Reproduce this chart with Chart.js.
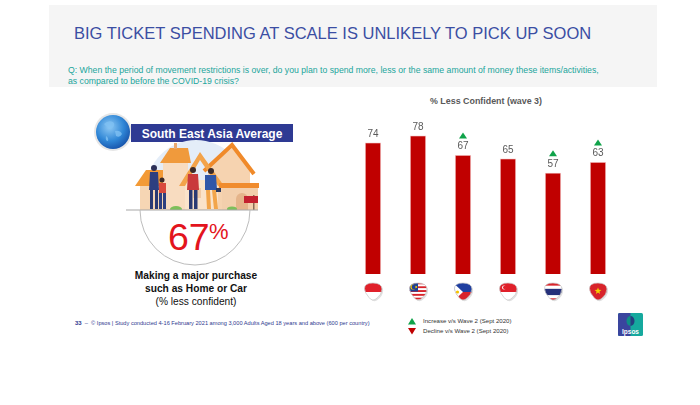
<!DOCTYPE html>
<html>
<head>
<meta charset="utf-8">
<script src="https://cdn.jsdelivr.net/npm/chart.js@4.4.1/dist/chart.umd.min.js"></script>
<style>
  html, body { margin:0; padding:0; background:#ffffff; }
  body { width:700px; height:405px; position:relative; overflow:hidden; font-family:"Liberation Sans", Arial, sans-serif; }
  .abs { position:absolute; white-space:nowrap; }
  #band { left:49px; top:5px; width:608px; height:82px; background:#f5f5f5; }
  #title { left:74px; top:23px; font-size:16.5px; color:#3b4ea3; line-height:20px; }
  #q { left:68px; top:65px; font-size:8.7px; color:#22a59c; line-height:11px; }
  #footer { left:75px; top:320px; font-size:5.65px; color:#2f3a8f; }
  #footer b { font-size:6px; }
  .leg { left:423px; font-size:6.1px; color:#333; }
  #chartTitle { left:430px; top:96px; font-size:8.9px; font-weight:bold; color:#595959; }
  .desc { left:96px; width:200px; text-align:center; color:#111; font-size:10.2px; }
  #svgLayer { position:absolute; left:0; top:0; }
  #c { position:absolute; left:0; top:0; }
</style>
</head>
<body>
<div id="band" class="abs"></div>
<div id="title" class="abs">BIG TICKET SPENDING AT SCALE IS UNLIKELY TO PICK UP SOON</div>
<div id="q" class="abs">Q: When the period of movement restrictions is over, do you plan to spend more, less or the same amount of money these items/activities,<br>as compared to before the COVID-19 crisis?</div>

<svg id="svgLayer" width="700" height="405" viewBox="0 0 700 405" xmlns="http://www.w3.org/2000/svg">
  <defs>
    <radialGradient id="globeG" cx="0.4" cy="0.35" r="0.7">
      <stop offset="0" stop-color="#8fcaf5"/>
      <stop offset="0.6" stop-color="#2f86d6"/>
      <stop offset="1" stop-color="#1650a8"/>
    </radialGradient>
    <clipPath id="aboveGround"><rect x="0" y="0" width="700" height="210"/></clipPath>
  </defs>
  <!-- globe -->
  <circle cx="113" cy="132" r="19" fill="#e6e6e6"/>
  <circle cx="113" cy="132" r="17" fill="url(#globeG)"/>
  <path d="M104 124 q4 -4 9 -2 q3 3 -1 6 q-4 1 -8 -4 z M115 131 q5 -1 7 3 q-2 4 -6 2 z M106 136 q3 2 2 5 q-3 0 -2 -5 z" fill="#7fc0f2" opacity="0.8"/>
  <!-- banner -->
  <rect x="131" y="124" width="162" height="18" fill="#2e3a93"/>
  <text x="212" y="137.5" text-anchor="middle" font-family="Liberation Sans, Arial, sans-serif" font-weight="bold" font-size="12" fill="#ffffff">South East Asia Average</text>

  <!-- illustration -->
  <g clip-path="url(#aboveGround)">
    <circle cx="196" cy="190" r="50" fill="#e4edf8"/>
    <rect x="140" y="184" width="28" height="26" fill="#f6d6b4"/>
    <polygon points="135,186 146,170 168,170 168,186" fill="#f39a36"/>
    <rect x="163" y="160" width="25" height="50" fill="#f8dcc0"/>
    <polygon points="160,163 170,148 188,148 191,163" fill="#f09a3c"/>
    <rect x="174" y="143" width="3" height="6" fill="#e9a870"/>
    <polygon points="208,168 232,148 250,168 250,210 208,210" fill="#f6d3b0"/>
    <polyline points="204,171 232,145 254,174" fill="none" stroke="#f08a2a" stroke-width="4"/>
    <rect x="185" y="180" width="33" height="30" fill="#fae3ca"/>
    <polygon points="179,186 200,152 224,186 218,186 200,160 185,186" fill="#f3a34a"/>
    <rect x="193" y="188" width="8" height="10" fill="#f1cba7"/>
    <rect x="222" y="186" width="36" height="24" fill="#f3cfac"/>
    <rect x="219" y="183" width="40" height="5" fill="#f08c2e"/>
    <path d="M236 210 v-11 a6 6 0 0 1 12 0 v11 z" fill="#e5b48a"/>
    <rect x="253" y="195" width="1.5" height="15" fill="#8a6a55"/>
    <rect x="244" y="196" width="14" height="7" fill="#c4212f"/>
    <ellipse cx="176" cy="209" rx="6" ry="3" fill="#7dbf5a"/>
    <ellipse cx="232" cy="209" rx="5" ry="2.5" fill="#7dbf5a"/>
    <circle cx="154" cy="168" r="3" fill="#2b2f57"/>
    <path d="M150 172 h8 l1 18 h-10 z" fill="#2d3f80"/>
    <rect x="150" y="190" width="3" height="19" fill="#2b3a73"/>
    <rect x="155" y="190" width="3" height="19" fill="#2b3a73"/>
    <circle cx="162" cy="180" r="2.5" fill="#3a2a2a"/>
    <rect x="159" y="183" width="7" height="10" fill="#d94a3c"/>
    <rect x="159" y="193" width="3" height="16" fill="#2d3f80"/>
    <rect x="163" y="193" width="3" height="16" fill="#2d3f80"/>
    <circle cx="193" cy="170" r="3" fill="#3a2a2a"/>
    <path d="M188 174 h10 l1 16 h-12 z" fill="#c9393c"/>
    <rect x="189" y="190" width="3.5" height="19" fill="#2b3a73"/>
    <rect x="194" y="190" width="3.5" height="19" fill="#2b3a73"/>
    <circle cx="211" cy="171" r="3" fill="#3a2a2a"/>
    <path d="M205 175 h11 l1 15 h-12 z" fill="#2f56a8"/>
    <path d="M206 190 h4 l1 19 h-4 z M212 190 h4 l2 19 h-4 z" fill="#f2a54a"/>
    <rect x="216" y="188" width="5" height="4" fill="#2b3a60"/>
  </g>
  <line x1="126" y1="210" x2="258" y2="210" stroke="#a7a7a7" stroke-width="1"/>
  <path d="M140 210 A55 55 0 0 0 250 210" fill="none" stroke="#bdbdbd" stroke-width="1"/>
  <text x="168" y="249.5" font-family="Liberation Sans, Arial, sans-serif" font-size="37.5" fill="#e3141d">67</text>
  <text x="209" y="239" font-family="Liberation Sans, Arial, sans-serif" font-size="22" fill="#e3141d">%</text>

  <polygon points="408,324.5 416,324.5 412,318" fill="#10a34a"/>
  <polygon points="408,328 416,328 412,334.5" fill="#c00000"/>

  <rect x="618" y="313" width="25" height="23" rx="1.5" fill="#16a99e"/>
  <path d="M619.5 313 h11 v23 h-11 a1.5 1.5 0 0 1 -1.5 -1.5 v-20 a1.5 1.5 0 0 1 1.5 -1.5 z" fill="#3a459e"/>
  <path d="M630.5 316 a4 5 0 0 0 0 10 z" fill="#0e8e86"/>
  <path d="M630.5 316 a4 5 0 0 1 0 10 z" fill="#24407f"/>
  <text x="630.5" y="334" text-anchor="middle" font-family="Liberation Sans, Arial, sans-serif" font-weight="bold" font-size="6.5" fill="#ffffff">Ipsos</text>
</svg>

<div class="abs desc" style="top:270px;font-weight:bold;">Making a major purchase</div>
<div class="abs desc" style="top:283px;font-weight:bold;">such as Home or Car</div>
<div class="abs desc" style="top:296px;">(% less confident)</div>

<div id="chartTitle" class="abs">% Less Confident (wave 3)</div>
<div id="footer" class="abs"><b>33</b> &nbsp;–&nbsp; © Ipsos | Study conducted 4-16 February 2021 among 3,000 Adults Aged 18 years and above (600 per country)</div>
<div class="abs leg" style="top:317px;">Increase v/s Wave 2 (Sept 2020)</div>
<div class="abs leg" style="top:327px;">Decline v/s Wave 2 (Sept 2020)</div>

<canvas id="c" width="700" height="405"></canvas>

<script>
// ---- data ----
const countries = ['Indonesia', 'Malaysia', 'Philippines', 'Singapore', 'Thailand', 'Vietnam'];
const lessConfidentWave3 = [74, 78, 67, 65, 57, 63];
const changeVsWave2 = ['none', 'none', 'up', 'none', 'up', 'up'];
const yTicks = [0, 100];

function pickPath(ctx) {
  ctx.beginPath();
  ctx.moveTo(-8.5, -3);
  ctx.quadraticCurveTo(-8.5, -8.5, 0, -8.5);
  ctx.quadraticCurveTo(8.5, -8.5, 9, -2.5);
  ctx.quadraticCurveTo(9, 3, 3, 7.5);
  ctx.quadraticCurveTo(-1, 10, -4, 6);
  ctx.quadraticCurveTo(-8.5, 1, -8.5, -3);
  ctx.closePath();
}

function drawFlag(ctx, name) {
  const W = 20, T = -9, B = 10;
  const stripes = (cols) => {
    const h = (B - T) / cols.length;
    cols.forEach((c, i) => { ctx.fillStyle = c; ctx.fillRect(-10, T + i * h, W, h + 0.3); });
  };
  if (name === 'Indonesia') stripes(['#e0202a', '#ffffff']);
  else if (name === 'Singapore') {
    stripes(['#e0202a', '#ffffff']);
    ctx.fillStyle = '#ffffff'; ctx.beginPath(); ctx.arc(-4, -4, 2, 0, Math.PI * 2); ctx.fill();
    ctx.fillStyle = '#e0202a'; ctx.beginPath(); ctx.arc(-3.2, -4, 1.8, 0, Math.PI * 2); ctx.fill();
  } else if (name === 'Malaysia') {
    const cols = [];
    for (let i = 0; i < 10; i++) cols.push(i % 2 === 0 ? '#d8232a' : '#ffffff');
    stripes(cols);
    ctx.fillStyle = '#1f3f94'; ctx.fillRect(-10, T, 10, 9);
    ctx.fillStyle = '#f5c400'; ctx.beginPath(); ctx.arc(-5, -4.5, 2.6, 0, Math.PI * 2); ctx.fill();
    ctx.fillStyle = '#1f3f94'; ctx.beginPath(); ctx.arc(-4.2, -4.5, 2.2, 0, Math.PI * 2); ctx.fill();
    ctx.fillStyle = '#f5c400'; ctx.beginPath(); ctx.arc(-1.8, -4.5, 1, 0, Math.PI * 2); ctx.fill();
  } else if (name === 'Philippines') {
    stripes(['#1f3fa0', '#d8232a']);
    ctx.fillStyle = '#ffffff';
    ctx.beginPath(); ctx.moveTo(-10, T); ctx.lineTo(0, 0.5); ctx.lineTo(-10, B); ctx.closePath(); ctx.fill();
    ctx.fillStyle = '#f5c400'; ctx.beginPath(); ctx.arc(-5.5, 0.5, 1.6, 0, Math.PI * 2); ctx.fill();
  } else if (name === 'Thailand') {
    stripes(['#d8232a', '#ffffff', '#25307a', '#25307a', '#ffffff', '#d8232a']);
  } else if (name === 'Vietnam') {
    stripes(['#d8232a']);
    ctx.fillStyle = '#f5d000';
    ctx.beginPath();
    for (let i = 0; i < 10; i++) {
      const r = i % 2 === 0 ? 3.6 : 1.5;
      const a = -Math.PI / 2 + i * Math.PI / 5;
      const x = r * Math.cos(a), y = r * Math.sin(a) - 0.5;
      if (i === 0) ctx.moveTo(x, y); else ctx.lineTo(x, y);
    }
    ctx.closePath(); ctx.fill();
  }
}

const overlayPlugin = {
  id: 'overlay',
  afterDatasetsDraw(chart) {
    const ctx = chart.ctx;
    const meta = chart.getDatasetMeta(0);
    meta.data.forEach((bar, i) => {
      const x = bar.x, top = bar.y;
      ctx.save();
      ctx.font = '10px "Liberation Sans", Arial, sans-serif';
      ctx.fillStyle = '#595959';
      ctx.textAlign = 'center';
      ctx.textBaseline = 'middle';
      ctx.fillText(String(lessConfidentWave3[i]), x, top - 8.5);
      if (changeVsWave2[i] === 'up' || changeVsWave2[i] === 'down') {
        const ty = top - 19.5;
        ctx.fillStyle = changeVsWave2[i] === 'up' ? '#10a34a' : '#c00000';
        ctx.beginPath();
        if (changeVsWave2[i] === 'up') {
          ctx.moveTo(x - 4, ty + 3); ctx.lineTo(x + 4, ty + 3); ctx.lineTo(x, ty - 3);
        } else {
          ctx.moveTo(x - 4, ty - 3); ctx.lineTo(x + 4, ty - 3); ctx.lineTo(x, ty + 3);
        }
        ctx.closePath(); ctx.fill();
      }
      ctx.restore();
      ctx.save();
      ctx.translate(x, 291.5);
      ctx.save();
      ctx.translate(1.2, 1.2);
      pickPath(ctx);
      ctx.fillStyle = 'rgba(0,0,0,0.12)';
      ctx.fill();
      ctx.restore();
      pickPath(ctx);
      ctx.save();
      ctx.clip();
      drawFlag(ctx, countries[i]);
      ctx.restore();
      pickPath(ctx);
      ctx.strokeStyle = 'rgba(200,200,200,0.9)';
      ctx.lineWidth = 0.8;
      ctx.stroke();
      ctx.restore();
    });
  }
};

new Chart(document.getElementById('c'), {
  type: 'bar',
  data: {
    labels: countries,
    datasets: [{
      data: lessConfidentWave3,
      backgroundColor: '#c00000',
      borderColor: 'rgba(240,170,170,0.7)',
      borderWidth: 0.8,
      barPercentage: 0.36,
      categoryPercentage: 1.0
    }]
  },
  options: {
    responsive: false,
    animation: false,
    devicePixelRatio: 1,
    layout: { padding: { left: 350.5, right: 79.5, top: 96.3, bottom: 131 } },
    plugins: { legend: { display: false }, tooltip: { enabled: false }, title: { display: false } },
    scales: {
      x: { display: false },
      y: { display: false, min: yTicks[0], max: yTicks[1] }
    }
  },
  plugins: [overlayPlugin]
});
</script>
</body>
</html>
